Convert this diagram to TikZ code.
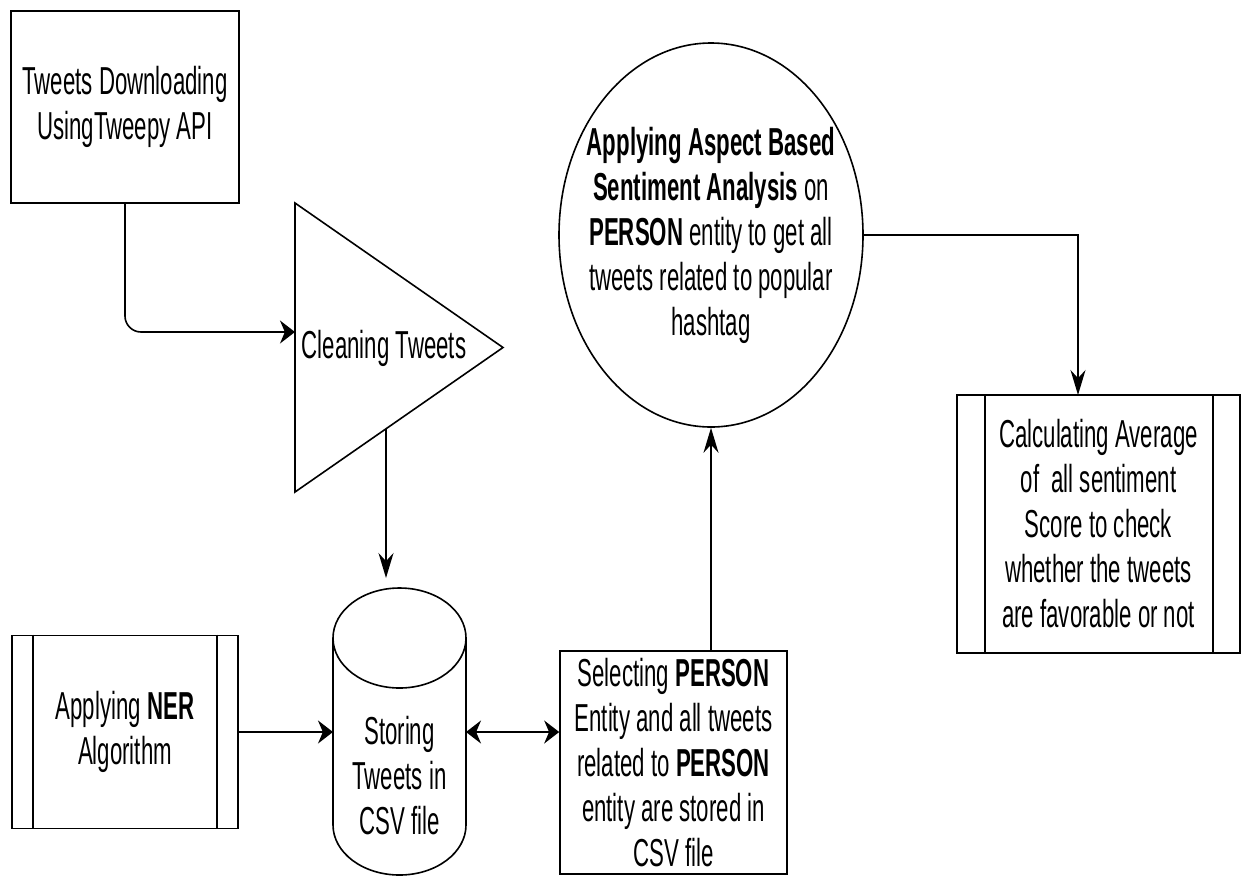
\documentclass[tikz,border=0pt]{standalone}
\usepackage{fontspec}
\newfontfamily\dfont{Liberation Sans}[FakeStretch=0.57]
\usetikzlibrary{arrows.meta,shapes.geometric,calc}
\begin{document}
\begin{tikzpicture}[x=1pt,y=-1pt,line width=1.6pt,
  txt/.style={font={\dfont\fontsize{39}{45}\selectfont},align=center,inner sep=2pt},
  box/.style={txt,draw,rectangle},
  harrow/.style={-{Stealth[length=15pt,width=23pt]}},
  dharrow/.style={{Stealth[length=15pt,width=23pt]}-{Stealth[length=15pt,width=23pt]}},
  varrow/.style={-{Stealth[length=25pt,width=15pt]}}]
\useasboundingbox (0,0) rectangle (1241,876);

% Tweets downloading
\node[box,minimum width=228pt,minimum height=192pt] (dl) at (125,107)
  {Tweets Downloading\\UsingTweepy API};

% Cleaning triangle
\coordinate (ttop) at (295,203);
\coordinate (ttip) at (503,347.5);
\coordinate (tbot) at (295,492);
\draw (ttop) -- (ttip) -- (tbot) -- cycle;
\node[txt] (clean) at (384,348) {Cleaning Tweets};
\coordinate (tin) at (295,332);
\coordinate (tout) at ($(tbot)!0.4375!(ttip)$);

% Storing cylinder
\draw (399.5,638) ellipse[x radius=66.5,y radius=50];
\draw (466,638) -- (466,825) arc[start angle=0,end angle=180,x radius=66.5,y radius=50] -- (333,638);
\node[txt] (store) at (399.5,776) {Storing\\Tweets in\\CSV file};
\coordinate (storeT) at (386,578);
\coordinate (storeL) at (333,732);
\coordinate (storeR) at (466,732);

% NER
\node[box,minimum width=226pt,minimum height=193pt] (ner) at (125,732)
  {Applying \textbf{NER}\\Algorithm};
\draw ($(ner.north west)+(22,0)$) -- ($(ner.south west)+(22,0)$);
\draw ($(ner.north east)+(-22,0)$) -- ($(ner.south east)+(-22,0)$);

% Selecting
\node[box,minimum width=227pt,minimum height=223pt] (sel) at (673.5,762.5)
  {Selecting \textbf{PERSON}\\Entity and all tweets\\related to \textbf{PERSON}\\entity are stored in\\CSV file};

% ABSA ellipse
\node[txt,draw,ellipse,inner sep=-40pt,minimum width=304pt,minimum height=384pt] (absa) at (711,235)
  {\textbf{Applying Aspect Based}\\\textbf{Sentiment Analysis} on\\\textbf{PERSON} entity to get all\\tweets related to popular\\hashtag};

% Calculating
\node[box,minimum width=283pt,minimum height=258pt] (calc) at (1098.5,524)
  {Calculating Average\\of\ \ all sentiment\\Score to check\\whether the tweets\\are favorable or not};
\draw ($(calc.north west)+(29,0)$) -- ($(calc.south west)+(29,0)$);
\draw ($(calc.north east)+(-28,0)$) -- ($(calc.south east)+(-28,0)$);
\coordinate (calcin) at (1078,395);

% connectors
\draw[harrow,rounded corners=16pt] (dl.south) |- (tin);
\draw[varrow] (tout) -- (storeT);
\draw[harrow] (ner.east) -- (storeL);
\draw[dharrow] (storeR) -- (storeR -| sel.west);
\draw[varrow] (absa.south |- sel.north) -- (absa.south);
\draw[varrow] (absa.east) -| (calcin);
\end{tikzpicture}
\end{document}
